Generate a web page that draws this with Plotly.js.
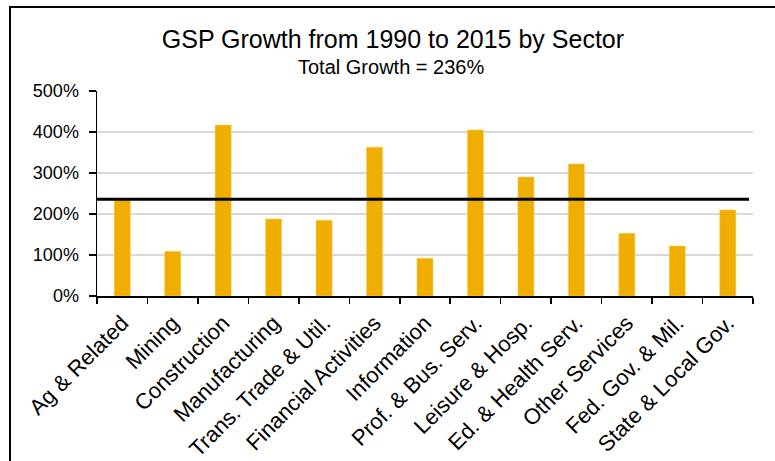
<!DOCTYPE html>
<html>
<head>
<meta charset="utf-8">
<script src="https://cdn.plot.ly/plotly-3.0.1.min.js"></script>
<style>
  html, body { margin: 0; padding: 0; background: #fff; }
  #wrap { position: relative; width: 775px; height: 461px; }
  #chart { width: 775px; height: 461px; }
  #frame { position: absolute; left: 9px; top: 6px; width: 770px; height: 470px;
           border-left: 2px solid #000; border-top: 2px solid #000; pointer-events: none; }
</style>
</head>
<body>
<div id="wrap">
  <div id="chart"></div>
  <div id="frame"></div>
</div>
<script>
const sectors = [
  "Ag & Related", "Mining", "Construction", "Manufacturing",
  "Trans. Trade & Util.", "Financial Activities", "Information",
  "Prof. & Bus. Serv.", "Leisure & Hosp.", "Ed. & Health Serv.",
  "Other Services", "Fed. Gov. & Mil.", "State & Local Gov."
];
const growthPct = [235, 109, 417, 188, 185, 363, 92, 405, 290, 322, 153, 122, 210];
const totalGrowth = 236;
const yTickVals = [0, 100, 200, 300, 400, 500];
const yTickText = ["0%", "100%", "200%", "300%", "400%", "500%"];
const titleText = "GSP Growth from 1990 to 2015 by Sector";
const subtitleText = "Total Growth = " + totalGrowth + "%";

const FONT = "Liberation Sans, Arial, sans-serif";

const trace = {
  type: "bar",
  x: sectors,
  y: growthPct,
  marker: { color: "#F0AE00", line: { color: "#F7D36A", width: 0.5 } },
  hoverinfo: "x+y"
};

const layout = {
  width: 775,
  height: 461,
  paper_bgcolor: "#ffffff",
  plot_bgcolor: "#ffffff",
  margin: { l: 97, r: 22, t: 91, b: 165 },
  showlegend: false,
  bargap: 0.68,
  font: { family: FONT, color: "#000" },
  title: {
    text: titleText,
    font: { family: FONT, size: 25, color: "#000" },
    x: 0.507, xanchor: "center", xref: "container",
    y: 1 - 39 / 461, yanchor: "middle", yref: "container"
  },
  annotations: [{
    text: subtitleText,
    xref: "paper", yref: "paper",
    x: 0.448, y: 1.117, xanchor: "center", yanchor: "middle",
    showarrow: false,
    font: { family: FONT, size: 20, color: "#000" }
  }],
  xaxis: {
    type: "category",
    tickangle: -45,
    tickfont: { family: FONT, size: 22, color: "#000" },
    showline: true, linecolor: "#000", linewidth: 1.5,
    ticks: "outside", tickson: "boundaries", ticklen: 6, tickcolor: "#000", tickwidth: 1.5,
    ticklabelstandoff: 4,
    showgrid: false,
    zeroline: false,
    fixedrange: true
  },
  yaxis: {
    range: [0, 500],
    tickvals: yTickVals,
    ticktext: yTickText,
    tickfont: { family: FONT, size: 18, color: "#000" },
    showline: true, linecolor: "#000", linewidth: 1.5,
    ticks: "outside", ticklen: 7, tickcolor: "#000", tickwidth: 1.5,
    ticklabelstandoff: 6,
    showgrid: true, gridcolor: "#d9d9d9", gridwidth: 1.5,
    zeroline: false,
    fixedrange: true
  },
  shapes: [{
    type: "line",
    xref: "paper", yref: "y",
    x0: 0, x1: 0.994,
    y0: totalGrowth, y1: totalGrowth,
    line: { color: "#000", width: 3 },
    layer: "above"
  }]
};

Plotly.newPlot("chart", [trace], layout, { displayModeBar: false, staticPlot: true });
</script>
</body>
</html>
